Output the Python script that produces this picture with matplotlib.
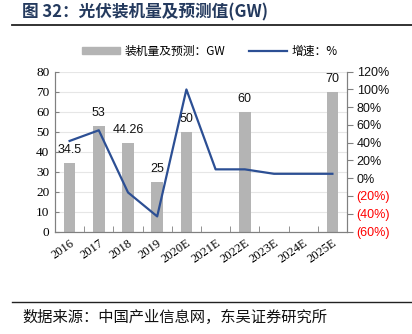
import matplotlib
matplotlib.use("Agg")
import matplotlib.pyplot as plt
import numpy as np
from matplotlib.lines import Line2D
from matplotlib.patches import Patch

categories = ["2016", "2017", "2018", "2019", "2020E", "2021E", "2022E", "2023E", "2024E", "2025E"]
capacity = [34.5, 53, 44.26, 25, 50, None, 60, None, None, 70]
capacity_labels = ["34.5", "53", "44.26", "25", "50", "", "60", "", "", "70"]
growth = [42, 54, -16, -43, 100, 10, 10, 5, 5, 5]
left_ticks = [0, 10, 20, 30, 40, 50, 60, 70, 80]
right_ticks = [-60, -40, -20, 0, 20, 40, 60, 80, 100, 120]
right_tick_labels = ["(60%)", "(40%)", "(20%)", "0%", "20%", "40%", "60%", "80%", "100%", "120%"]

cjk = ["Noto Sans CJK SC", "DejaVu Sans"]
serif = ["Liberation Serif", "DejaVu Serif"]
sans = ["Liberation Sans", "DejaVu Sans"]

fig = plt.figure(figsize=(4.12, 3.34), dpi=100)
ax = fig.add_axes([55/412, 1-231.5/334, (347-55)/412, (231.5-71.7)/334])
ax2 = ax.twinx()

x = np.arange(len(categories))
bx = [i for i, v in enumerate(capacity) if v is not None]
bv = [v for v in capacity if v is not None]
ax.bar(bx, bv, width=0.4, color="#b4b4b4", zorder=2)
for i in bx:
    ax.annotate(capacity_labels[i], (i, capacity[i]), xytext=(0, 5), textcoords="offset points",
                ha="center", va="bottom", fontsize=9, family=sans, color="#111111", zorder=5)

ax2.plot(x, growth, color="#2c4f94", lw=1.6, zorder=4)

ax.set_xlim(-0.5, len(categories) - 0.5)
ax.set_ylim(0, 80)
ax.set_yticks(left_ticks)
ax.set_yticklabels([str(t) for t in left_ticks], family=serif, fontsize=9.5)
ax2.set_ylim(-60, 120)
ax2.set_yticks(right_ticks)
ax2.set_yticklabels(right_tick_labels, family=sans, fontsize=9)
for lab, t in zip(ax2.get_yticklabels(), right_ticks):
    lab.set_color("#ff0000" if t < 0 else "#111111")

ax.set_xticks(x)
ax.set_xticklabels(categories, family=serif, fontsize=9, rotation=35, ha="right", rotation_mode="anchor")
ax.tick_params(axis="x", length=0, pad=4)
ax.set_xticks(np.arange(-0.5, len(categories), 1), minor=True)
ax.tick_params(axis="x", which="minor", length=4, direction="in", color="#808080")
ax.tick_params(axis="y", length=3, direction="in", color="#808080", pad=4)
ax2.tick_params(axis="y", length=4, direction="out", color="#808080", pad=3)

ax.yaxis.grid(True, color="#e6e6e6", lw=0.8, zorder=0)
ax.set_axisbelow(True)
for a in (ax, ax2):
    a.spines["top"].set_visible(False)
    a.spines["left"].set_color("#808080")
    a.spines["right"].set_color("#808080")
    a.spines["bottom"].set_color("#808080")

# Title and rules
fig.text(22/412, 1-12/334, "图 32：光伏装机量及预测值(GW)", family=cjk, fontsize=12, weight="bold",
         color="#243a5e", va="center", ha="left")
fig.add_artist(Line2D([12/412, 1], [1-24.5/334, 1-24.5/334], color="#222222", lw=1.3))
fig.add_artist(Line2D([12/412, 1], [1-302/334, 1-302/334], color="#222222", lw=1.0))
fig.text(22/412, 1-317/334, "数据来源：中国产业信息网，东吴证券研究所", family=cjk, fontsize=11,
         color="#111111", va="center", ha="left")

handles = [Patch(color="#b4b4b4"), Line2D([], [], color="#2c4f94", lw=1.6)]
leg = fig.legend(handles, ["装机量及预测：GW", "增速：%"], loc="center", bbox_to_anchor=(210/412, 1-51/334),
                 ncol=2, frameon=False, prop={"family": cjk, "size": 8.5}, handlelength=3.2,
                 handleheight=0.6, columnspacing=2.0, handletextpad=0.4)

fig.savefig("out.png", dpi=100)
